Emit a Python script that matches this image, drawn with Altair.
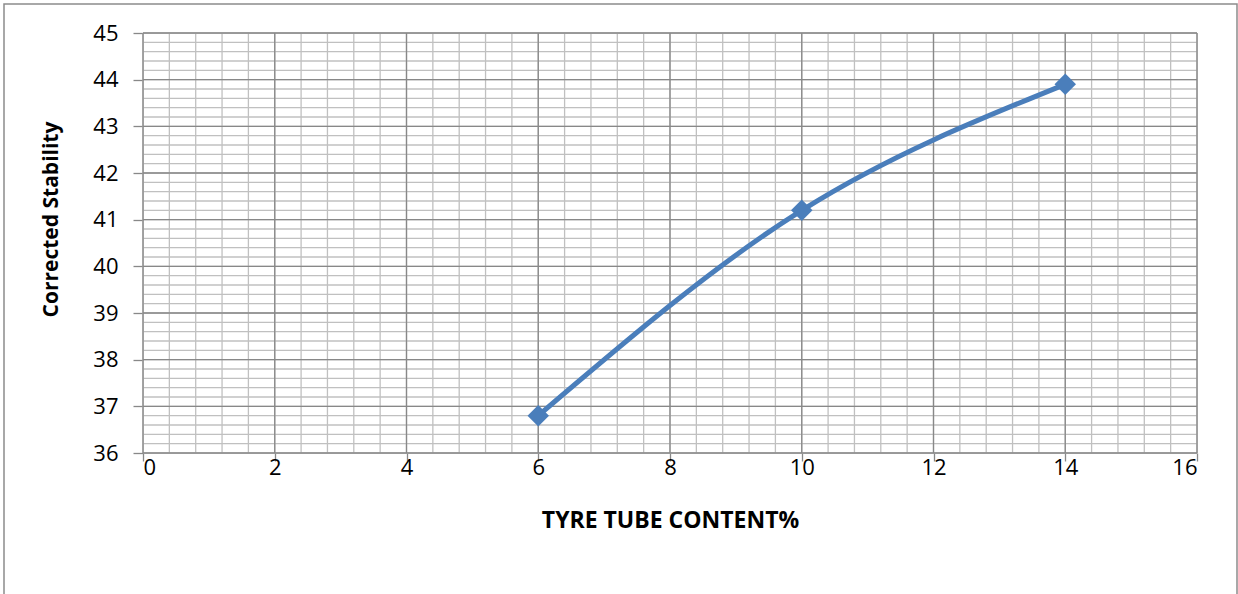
import altair as alt
import pandas as pd
import numpy as np

# data
tyre_content = [6, 10, 14]
corrected_stability = [36.8, 41.2, 43.9]

x_minor = [round(v, 2) for v in np.arange(0, 16.001, 0.4)]
x_major = list(range(0, 17, 2))
y_minor = [round(v, 2) for v in np.arange(36, 45.001, 0.2)]
y_major = list(range(36, 46))

df = pd.DataFrame({"x": tyre_content, "y": corrected_stability})

W, H = 1054, 420
PL, PT = 143, 33
FONT = "Open Sans"

xs = alt.Scale(domain=[0, 16], nice=False, zero=False)
ys = alt.Scale(domain=[36, 45], nice=False, zero=False)

minor_c = "#C0C0C0"
major_c = "#888888"

x_axis = alt.Axis(values=x_major, title="TYRE TUBE CONTENT%", grid=False, domain=False,
                  tickColor=major_c, tickSize=8, tickWidth=1.3, labelPadding=-4,
                  labelFontSize=22, labelFont=FONT, labelColor="#000000",
                  titleFontSize=23, titleFont=FONT, titleFontWeight="bold", titleColor="#000000",
                  titlePadding=31)
y_axis = alt.Axis(values=y_major, title="Corrected Stability", grid=False, domain=False,
                  tickColor=major_c, tickSize=10, tickWidth=1.3, labelPadding=15,
                  labelFontSize=22, labelFont=FONT, labelColor="#000000",
                  titleFontSize=21, titleFont=FONT, titleFontWeight="bold", titleColor="#000000",
                  titlePadding=31, titleY=186)

def X(f="x"):
    return alt.X(f"{f}:Q", scale=xs, axis=x_axis)

def Y(f="y"):
    return alt.Y(f"{f}:Q", scale=ys, axis=y_axis)

vx_minor = alt.Chart(pd.DataFrame({"x": x_minor})).mark_rule(color=minor_c, strokeWidth=1.3).encode(x=X())
hy_minor = alt.Chart(pd.DataFrame({"y": y_minor})).mark_rule(color=minor_c, strokeWidth=1.3).encode(y=Y())
vx_major = alt.Chart(pd.DataFrame({"x": x_major})).mark_rule(color=major_c, strokeWidth=1.3).encode(x=X())
hy_major = alt.Chart(pd.DataFrame({"y": y_major})).mark_rule(color=major_c, strokeWidth=1.3).encode(y=Y())

line = alt.Chart(df).mark_line(color="#4A7EBB", strokeWidth=5, interpolate="monotone").encode(x=X(), y=Y())
pts = alt.Chart(df).mark_point(shape="diamond", filled=True, size=460, color="#4A7EBB", opacity=1).encode(x=X(), y=Y())

border = alt.Chart(pd.DataFrame({"a": [0]})).mark_rect(fill=None, stroke="#8C8C8C", strokeWidth=1.5, clip=False).encode(
    x=alt.value(4 - PL), x2=alt.value(1237 - PL), y=alt.value(4 - PT), y2=alt.value(600 - PT))

chart = alt.layer(vx_minor, hy_minor, vx_major, hy_major, line, pts, border).properties(
    width=W, height=H,
    autosize=alt.AutoSizeParams(type="none"),
    padding={"left": PL, "top": PT, "right": 1238 - PL - W, "bottom": 594 - PT - H},
).configure_view(stroke=None).configure(background="white")

chart.save("out.html", embed_options={"renderer": "svg", "actions": False})
